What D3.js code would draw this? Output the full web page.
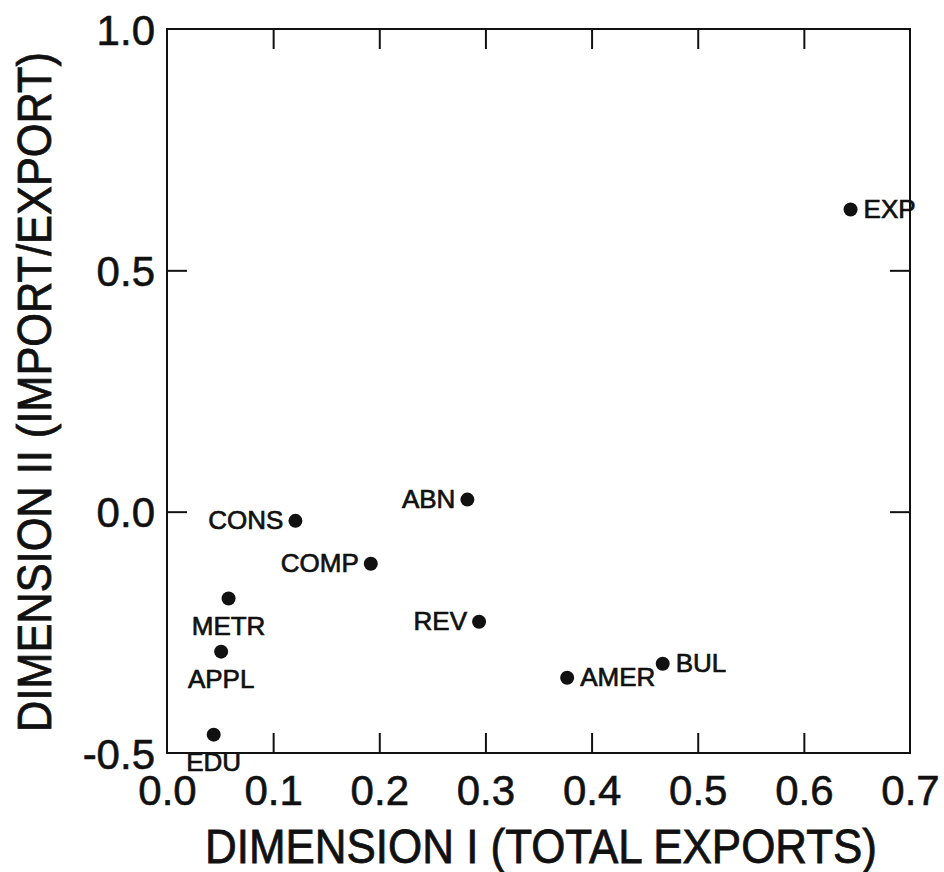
<!DOCTYPE html>
<html>
<head>
<meta charset="utf-8">
<script src="https://cdn.jsdelivr.net/npm/d3@7"></script>
<style>
  body { margin: 0; background: #fff; }
  text { font-family: "Liberation Sans", Arial, sans-serif; fill: #111; }
</style>
</head>
<body>
<div id="chart"></div>
<script>
// data
const names = ["EXP", "ABN", "CONS", "COMP", "METR", "APPL", "REV", "EDU", "AMER", "BUL"]
const dim1 = [0.644, 0.283, 0.121, 0.192, 0.058, 0.051, 0.294, 0.044, 0.377, 0.467]
const dim2 = [0.626, 0.025, -0.019, -0.108, -0.180, -0.290, -0.228, -0.462, -0.344, -0.315]
const labelSide = ["right", "left", "left", "left", "below", "below", "left", "below", "right", "right"]
const xTicks = [0, 0.1, 0.2, 0.3, 0.4, 0.5, 0.6, 0.7]
const yTicks = [-0.5, 0, 0.5, 1.0]

const W = 944, H = 872
const margin = {top: 29, right: 34, bottom: 119, left: 167}
const width = W - margin.left - margin.right,
      height = H - margin.top - margin.bottom

const svg = d3.select("#chart")
  .append("svg")
    .attr("width", W)
    .attr("height", H)
  .append("g")
    .attr("transform", `translate(${margin.left},${margin.top})`)

const x = d3.scaleLinear().domain([0, 0.7]).range([0, width])
const y = d3.scaleLinear().domain([-0.5, 1.0]).range([height, 0])

const tickLen = 20
// plain hyphen for negatives, like the original
const fmt = d => d3.format(".1f")(d).replace("\u2212", "-")

// inner ticks on all four sides, labels on left and bottom only
const styleAxis = g => {
  g.select(".domain").remove()
  g.selectAll("line").attr("stroke", "#111").attr("stroke-width", 2)
}
const styleLabels = g => g.selectAll("text")
  .attr("font-size", 42).attr("fill", "#111")
  .attr("stroke", "#111").attr("stroke-width", 0.6)

svg.append("g")
    .attr("transform", `translate(0,${height})`)
    .call(d3.axisBottom(x).tickValues(xTicks).tickSize(-tickLen).tickPadding(22).tickFormat(fmt))
    .call(styleAxis)
    .call(g => g.selectAll("line").filter(d => d === 0 || d === 0.7).remove())
    .call(styleLabels)

svg.append("g")
    .call(d3.axisTop(x).tickValues(xTicks.slice(1, -1)).tickSize(-tickLen).tickFormat(""))
    .call(styleAxis)

svg.append("g")
    .call(d3.axisLeft(y).tickValues(yTicks).tickSize(-tickLen).tickPadding(12).tickFormat(fmt))
    .call(styleAxis)
    .call(g => g.selectAll("line").filter(d => d === -0.5 || d === 1.0).remove())
    .call(styleLabels)
    .call(g => g.selectAll("text").attr("dy", "0.36em"))

svg.append("g")
    .attr("transform", `translate(${width},0)`)
    .call(d3.axisRight(y).tickValues(yTicks.slice(1, -1)).tickSize(-tickLen).tickFormat(""))
    .call(styleAxis)

// frame
svg.append("rect")
    .attr("width", width)
    .attr("height", height)
    .attr("fill", "none")
    .attr("stroke", "#111")
    .attr("stroke-width", 2)

// axis titles
svg.append("text")
    .attr("x", 374)
    .attr("y", height + 110)
    .attr("text-anchor", "middle")
    .attr("font-size", 48)
    .attr("stroke", "#111").attr("stroke-width", 0.8)
    .attr("textLength", 672)
    .attr("lengthAdjust", "spacingAndGlyphs")
    .text("DIMENSION I (TOTAL EXPORTS)")

svg.append("text")
    .attr("transform", `translate(-116,363) rotate(-90)`)
    .attr("text-anchor", "middle")
    .attr("font-size", 48)
    .attr("stroke", "#111").attr("stroke-width", 0.8)
    .attr("textLength", 680)
    .attr("lengthAdjust", "spacingAndGlyphs")
    .text("DIMENSION II (IMPORT/EXPORT)")

// points
const pts = names.map((n, i) => ({name: n, x: dim1[i], y: dim2[i], side: labelSide[i]}))

svg.append("g")
  .selectAll("circle")
  .data(pts)
  .join("circle")
    .attr("cx", d => x(d.x))
    .attr("cy", d => y(d.y))
    .attr("r", 7)
    .attr("fill", "#111")

svg.append("g")
  .selectAll("text")
  .data(pts)
  .join("text")
    .attr("font-size", 26)
    .attr("stroke", "#111")
    .attr("stroke-width", 0.7)
    .attr("x", d => x(d.x) + (d.side === "right" ? 13 : d.side === "left" ? -12 : 0))
    .attr("y", d => y(d.y) + (d.side === "below" ? 36 : 8))
    .attr("text-anchor", d => d.side === "right" ? "start" : d.side === "left" ? "end" : "middle")
    .text(d => d.name)
</script>
</body>
</html>
